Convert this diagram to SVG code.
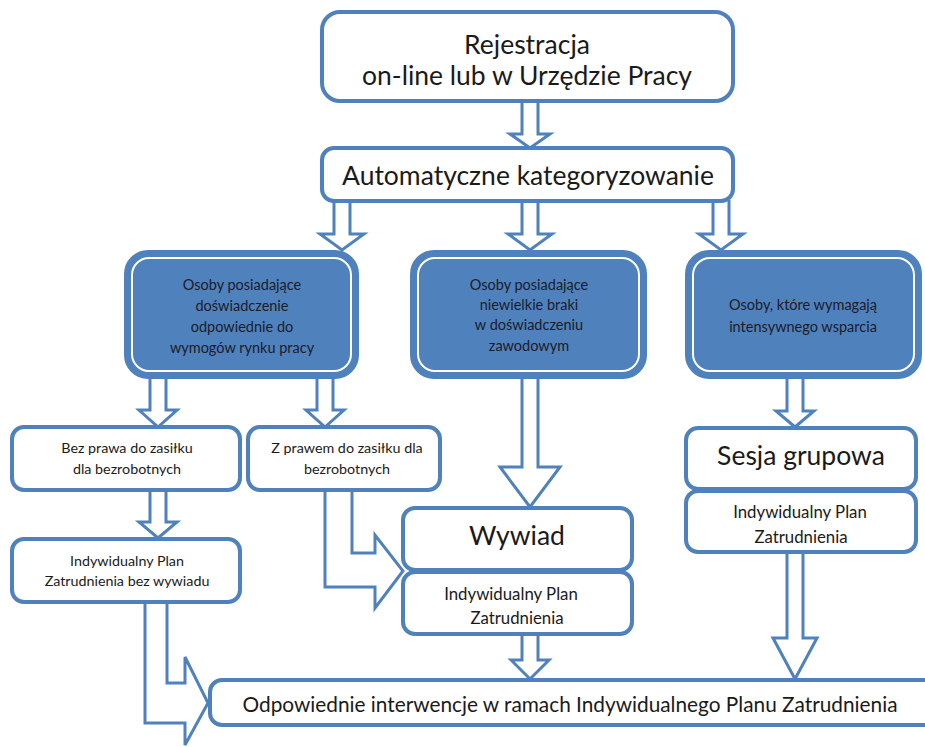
<svg xmlns="http://www.w3.org/2000/svg" width="925" height="747" viewBox="0 0 925 747">
<style>
.box{fill:#fff;stroke:#4F81BD;stroke-width:4}
.blue{fill:#4F81BD;stroke:#4F81BD;stroke-width:4}
.inner{fill:none;stroke:#fff;stroke-width:2}
.arr{fill:#fff;stroke:#4F81BD;stroke-width:3;stroke-linejoin:miter}
text{font-family:Lato,"Liberation Sans",sans-serif;fill:#1a1a1a;text-anchor:middle;dominant-baseline:central}
.big{font-size:26.5px}
.bt{font-size:14.5px;fill:#1c1c28}
.sm{font-size:14.3px}
.md{font-size:16.8px}
.bot{font-size:20.8px}
</style>
<rect width="925" height="747" fill="#fff"/>
<g id="connectors">
<path class="arr" d="M522,100 V134 H510 L530,148 L550,134 H538 V100"/>
<path class="arr" d="M334,200 V234 H320 L342,250 L364,234 H350 V200"/>
<path class="arr" d="M522,200 V234 H508 L530,250 L552,234 H538 V200"/>
<path class="arr" d="M713,200 V234 H699 L721,250 L743,234 H729 V200"/>
<path class="arr" d="M150,377 V410 H139 L158,427 L177,410 H166 V377"/>
<path class="arr" d="M317,377 V410 H306 L325,427 L344,410 H333 V377"/>
<path class="arr" d="M522,377 V467 H500 L530,507 L560,467 H538 V377"/>
<path class="arr" d="M787,377 V411 H776 L795,427 L814,411 H803 V377"/>
<path class="arr" d="M150,490 V522 H139 L158,538 L177,522 H166 V490"/>
<path class="arr" d="M522,634 V660 H511 L530,679 L549,660 H538 V634"/>
<path class="arr" d="M787,552 V638 H773 L795,679 L817,638 H803 V552"/>
<path class="arr" d="M145,602 V723 H185 V745 L208,703 L185,657 V683 H167 V602"/>
<path class="arr" d="M325,490 V587 H375 V608 L403,571 L375,535 V553 H352 V490"/>
</g>
<g id="n-rejestracja">
<rect class="box" x="322" y="12" width="411" height="89" rx="18"/>
<text class="big" x="527" y="44">Rejestracja</text>
<text class="big" x="527" y="75">on-line lub w Urzędzie Pracy</text>
</g>
<g id="n-auto">
<rect class="box" x="322" y="148" width="411" height="53" rx="12"/>
<text class="big" x="528" y="175">Automatyczne kategoryzowanie</text>
</g>
<g id="n-osoby1">
<rect class="blue" x="126" y="252" width="231" height="125" rx="22"/>
<rect class="inner" x="132" y="258" width="219" height="113" rx="17"/>
<text class="bt" x="242" y="284">Osoby posiadające</text>
<text class="bt" x="242" y="305">doświadczenie</text>
<text class="bt" x="242" y="326">odpowiednie do</text>
<text class="bt" x="242" y="347">wymogów rynku pracy</text>
</g>
<g id="n-osoby2">
<rect class="blue" x="412" y="252" width="233" height="125" rx="22"/>
<rect class="inner" x="418" y="258" width="221" height="113" rx="17"/>
<text class="bt" x="529" y="284">Osoby posiadające</text>
<text class="bt" x="529" y="304">niewielkie braki</text>
<text class="bt" x="529" y="324">w doświadczeniu</text>
<text class="bt" x="529" y="345">zawodowym</text>
</g>
<g id="n-osoby3">
<rect class="blue" x="687" y="252" width="233" height="125" rx="22"/>
<rect class="inner" x="693" y="258" width="221" height="113" rx="17"/>
<text class="bt" x="803" y="304">Osoby, które wymagają</text>
<text class="bt" x="803" y="326">intensywnego wsparcia</text>
</g>
<g id="n-bez">
<rect class="box" x="12" y="427" width="228" height="63" rx="12"/>
<text class="sm" x="127" y="447">Bez prawa do zasiłku</text>
<text class="sm" x="127" y="468">dla bezrobotnych</text>
</g>
<g id="n-z">
<rect class="box" x="248" y="427" width="192" height="63" rx="12"/>
<text class="sm" x="347" y="447">Z prawem do zasiłku dla</text>
<text class="sm" x="347" y="468">bezrobotnych</text>
</g>
<g id="n-ipz-bez">
<rect class="box" x="12" y="539" width="228" height="63" rx="12"/>
<text class="sm" x="127" y="560">Indywidualny Plan</text>
<text class="sm" x="127" y="580">Zatrudnienia bez wywiadu</text>
</g>
<g id="n-wywiad">
<rect class="box" x="403" y="508" width="229" height="62" rx="12"/>
<text class="big" x="517" y="535">Wywiad</text>
</g>
<g id="n-ipz-mid">
<rect class="box" x="403" y="572" width="229" height="62" rx="12"/>
<text class="md" x="511" y="593">Indywidualny Plan</text>
<text class="md" x="517" y="617">Zatrudnienia</text>
</g>
<g id="n-sesja">
<rect class="box" x="686" y="428" width="230" height="61" rx="12"/>
<text class="big" x="801" y="455">Sesja grupowa</text>
</g>
<g id="n-ipz-right">
<rect class="box" x="686" y="491" width="230" height="61" rx="12"/>
<text class="md" x="800" y="511">Indywidualny Plan</text>
<text class="md" x="801" y="536">Zatrudnienia</text>
</g>
<g id="n-odpowiednie">
<rect class="box" x="210" y="680" width="740" height="45" rx="12"/>
<text class="bot" x="570" y="703">Odpowiednie interwencje w ramach Indywidualnego Planu Zatrudnienia</text>
</g>
</svg>
